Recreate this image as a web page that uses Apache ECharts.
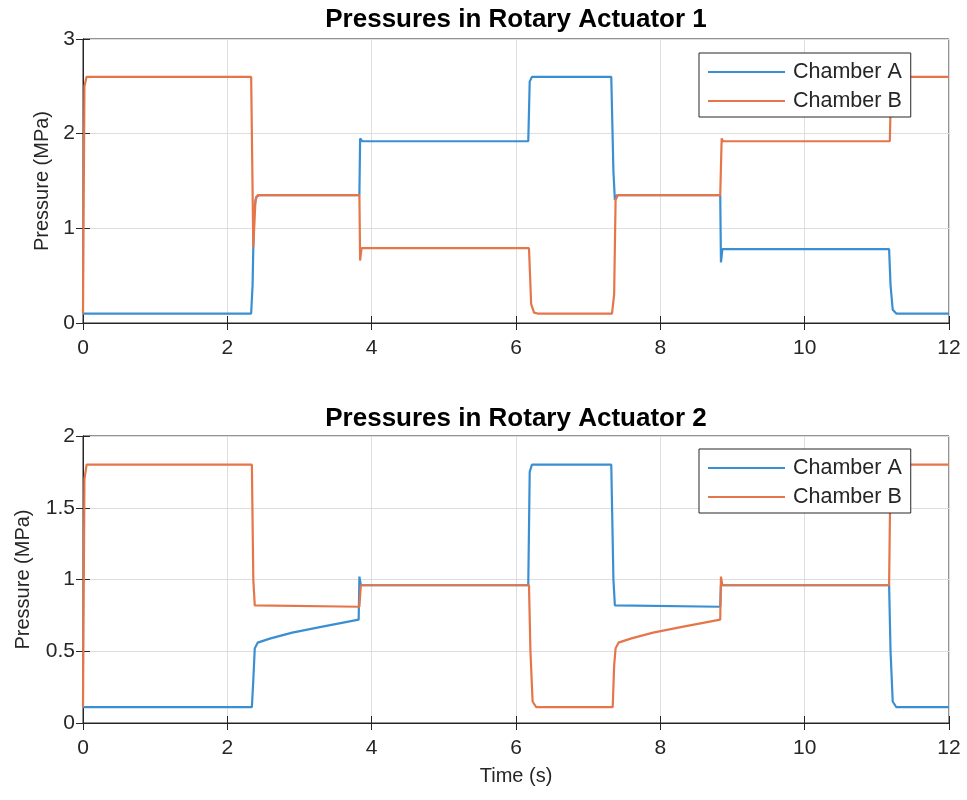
<!DOCTYPE html>
<html>
<head>
<meta charset="utf-8">
<script src="https://cdn.jsdelivr.net/npm/echarts@6/dist/echarts.min.js"></script>
<style>
html,body{margin:0;padding:0;background:#fff;}
#chart{width:967px;height:800px;}
</style>
</head>
<body>
<div id="chart"></div>
<script>
// ---- Data ----
const seriesNames = ['Chamber A', 'Chamber B'];
const titles = ['Pressures in Rotary Actuator 1', 'Pressures in Rotary Actuator 2'];
const xTicks = [0, 2, 4, 6, 8, 10, 12];
const yTicks1 = [0, 1, 2, 3];
const yTicks2 = [0, 0.5, 1, 1.5, 2];

// Actuator 1, Chamber A
const t_A1 = [0, 2.33, 2.35, 2.37, 2.40, 2.44, 3.83, 3.84, 3.87, 6.17, 6.19, 6.22, 7.32, 7.35, 7.37, 7.40, 8.83, 8.84, 8.86, 11.17, 11.19, 11.22, 11.27, 12];
const p_A1 = [0.1, 0.1, 0.4, 1.2, 1.33, 1.35, 1.35, 1.95, 1.92, 1.92, 2.55, 2.6, 2.6, 1.6, 1.3, 1.35, 1.35, 0.64, 0.78, 0.78, 0.4, 0.14, 0.1, 0.1];
// Actuator 1, Chamber B
const t_B1 = [0, 0.02, 0.05, 2.33, 2.36, 2.39, 2.42, 3.83, 3.84, 3.86, 6.18, 6.21, 6.25, 6.30, 7.33, 7.36, 7.38, 7.41, 8.83, 8.85, 8.87, 11.18, 11.20, 12];
const p_B1 = [0.1, 2.5, 2.6, 2.6, 0.8, 1.3, 1.35, 1.35, 0.66, 0.79, 0.79, 0.2, 0.11, 0.1, 0.1, 0.3, 1.3, 1.35, 1.35, 1.95, 1.92, 1.92, 2.6, 2.6];
// Actuator 2, Chamber A
const t_A2 = [0, 2.34, 2.36, 2.38, 2.42, 2.6, 2.9, 3.3, 3.82, 3.83, 3.85, 6.17, 6.19, 6.22, 7.32, 7.35, 7.37, 8.83, 8.84, 11.17, 11.19, 11.22, 11.27, 12];
const p_A2 = [0.11, 0.11, 0.3, 0.52, 0.56, 0.59, 0.63, 0.67, 0.72, 1.02, 0.96, 0.96, 1.75, 1.8, 1.8, 1.0, 0.82, 0.81, 0.96, 0.96, 0.5, 0.15, 0.11, 0.11];
// Actuator 2, Chamber B
const t_B2 = [0, 0.02, 0.05, 2.34, 2.36, 2.38, 3.83, 3.85, 6.18, 6.20, 6.23, 6.28, 7.34, 7.36, 7.38, 7.42, 7.6, 7.9, 8.3, 8.83, 8.84, 8.86, 11.17, 11.19, 12];
const p_B2 = [0.11, 1.7, 1.8, 1.8, 1.0, 0.82, 0.81, 0.96, 0.96, 0.5, 0.15, 0.11, 0.11, 0.4, 0.52, 0.56, 0.59, 0.63, 0.67, 0.72, 1.02, 0.96, 0.96, 1.8, 1.8];

// ---- Styling ----
const colA = '#3a8fd3';
const colB = '#e5764a';
const axisCol = '#262626';
const gridCol = '#dedede';
const FONT = 'Liberation Sans, Arial, Helvetica, sans-serif';
const TICK_FS = 21;

function zip(t, p) { return t.map((v, i) => [v, p[i]]); }

const grids = [
  { left: 83, top: 39, width: 866, height: 284, show: true, borderColor: axisCol, borderWidth: 1 },
  { left: 83, top: 436, width: 866, height: 287, show: true, borderColor: axisCol, borderWidth: 1 }
];

function mainX(gi, showName) {
  return {
    type: 'value', gridIndex: gi, min: xTicks[0], max: xTicks[xTicks.length - 1], interval: 2,
    position: 'bottom',
    axisLine: { show: true, lineStyle: { color: axisCol, width: 1 } },
    axisTick: { show: true, inside: true, length: 7, lineStyle: { color: axisCol } },
    axisLabel: { color: axisCol, fontSize: TICK_FS, fontFamily: FONT, margin: 15 },
    splitLine: { show: true, lineStyle: { color: gridCol, width: 1 } },
    name: showName ? 'Time (s)' : '', nameLocation: 'middle', nameGap: 43,
    nameTextStyle: { color: axisCol, fontSize: 20, fontFamily: FONT }
  };
}
function topX(gi) {
  return {
    type: 'value', gridIndex: gi, min: xTicks[0], max: xTicks[xTicks.length - 1], interval: 2,
    position: 'top',
    axisLine: { show: true, lineStyle: { color: axisCol, width: 1 } },
    axisTick: { show: true, inside: true, length: 7, lineStyle: { color: axisCol } },
    axisLabel: { show: false }, splitLine: { show: false }
  };
}
function mainY(gi, ticks, interval, gap) {
  return {
    type: 'value', gridIndex: gi, min: ticks[0], max: ticks[ticks.length - 1], interval: interval,
    position: 'left',
    axisLine: { show: true, lineStyle: { color: axisCol, width: 1 } },
    axisTick: { show: true, inside: true, length: 7, lineStyle: { color: axisCol } },
    axisLabel: { color: axisCol, fontSize: TICK_FS, fontFamily: FONT, margin: 8 },
    splitLine: { show: true, lineStyle: { color: gridCol, width: 1 } },
    name: 'Pressure (MPa)', nameLocation: 'middle', nameGap: gap,
    nameTextStyle: { color: axisCol, fontSize: 20, fontFamily: FONT }
  };
}
function rightY(gi, ticks, interval) {
  return {
    type: 'value', gridIndex: gi, min: ticks[0], max: ticks[ticks.length - 1], interval: interval,
    position: 'right',
    axisLine: { show: true, lineStyle: { color: axisCol, width: 1 } },
    axisTick: { show: true, inside: true, length: 7, lineStyle: { color: axisCol } },
    axisLabel: { show: false }, splitLine: { show: false }
  };
}

function legendAt(top) {
  return {
    data: seriesNames, orient: 'vertical', left: 699, top: top,
    icon: 'rect', itemWidth: 77, itemHeight: 2, itemGap: 7,
    padding: [8, 9, 5, 9],
    borderColor: axisCol, borderWidth: 1, backgroundColor: '#fff',
    textStyle: { color: axisCol, fontSize: 21.5, fontFamily: FONT, padding: [0, 0, 0, 3] }
  };
}

function lineSeries(name, xi, yi, data, color) {
  return {
    name: name, type: 'line', xAxisIndex: xi, yAxisIndex: yi, data: data,
    symbol: 'none', showSymbol: false, color: color,
    lineStyle: { color: color, width: 2.2 }, z: 3
  };
}

const TITLE_STYLE = { fontSize: 26, fontWeight: 'bold', color: '#000', fontFamily: FONT };
const option = {
  animation: false,
  backgroundColor: '#fff',
  title: [
    { text: titles[0], left: 511, top: 2, textAlign: 'center', textStyle: TITLE_STYLE },
    { text: titles[1], left: 511, top: 401, textAlign: 'center', textStyle: TITLE_STYLE }
  ],
  grid: grids,
  xAxis: [mainX(0, false), topX(0), mainX(1, true), topX(1)],
  yAxis: [mainY(0, yTicks1, 1, 30), rightY(0, yTicks1, 1), mainY(1, yTicks2, 0.5, 50), rightY(1, yTicks2, 0.5)],
  legend: [legendAt(53), legendAt(449)],
  series: [
    lineSeries(seriesNames[0], 0, 0, zip(t_A1, p_A1), colA),
    lineSeries(seriesNames[1], 0, 0, zip(t_B1, p_B1), colB),
    lineSeries(seriesNames[0], 2, 2, zip(t_A2, p_A2), colA),
    lineSeries(seriesNames[1], 2, 2, zip(t_B2, p_B2), colB)
  ]
};

const chart = echarts.init(document.getElementById('chart'), null, { renderer: 'canvas' });
chart.setOption(option);
</script>
</body>
</html>
